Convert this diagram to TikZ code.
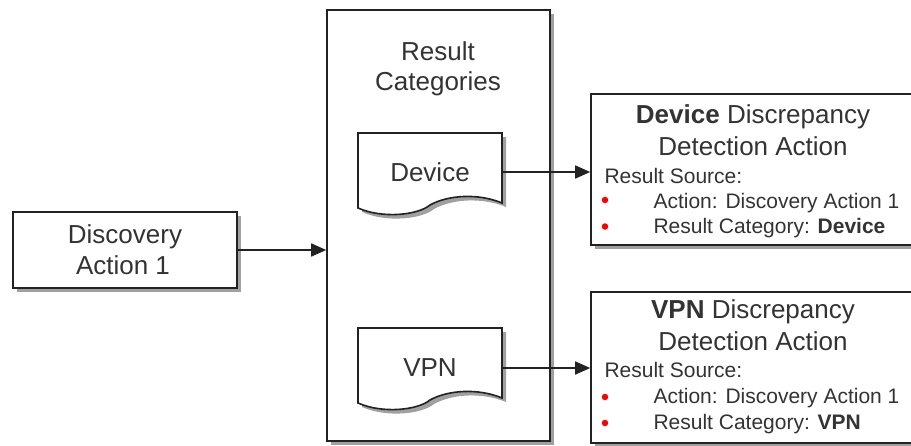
\documentclass[tikz,border=0pt]{standalone}
\usepackage{fontspec}
\setmainfont{Liberation Sans}
\usetikzlibrary{arrows.meta,shadows}
\definecolor{txt}{HTML}{333333}
\definecolor{ln}{HTML}{222222}
\definecolor{shd}{HTML}{A0A0A0}
\begin{document}
\begin{tikzpicture}[x=1pt,y=-1pt,
  box/.style={draw=ln, line width=1.6pt, fill=white, rectangle, inner sep=0pt,
    drop shadow={shadow xshift=4pt, shadow yshift=-4pt, fill=shd, opacity=1}},
  big/.style={font=\fontsize{26}{31}\selectfont, text=txt},
  small/.style={font=\fontsize{21}{25}\selectfont, text=txt},
  arr/.style={draw=ln, line width=1.6pt, -{Triangle[length=15pt,width=13pt]}},
  reddot/.style={circle, fill=red, draw=none, inner sep=0pt, minimum size=6.5pt},
  docshape/.pic={
    \fill[shd] (4,4) -- (148,4) -- (148,74) .. controls (124,64) and (94,66) .. (76,76)
       .. controls (64,86) and (29,90) .. (4,79) -- cycle;
    \draw[ln, line width=1.6pt, fill=white] (0,0) -- (144,0) -- (144,70)
       .. controls (120,60) and (90,62) .. (72,72)
       .. controls (60,82) and (25,86) .. (0,75) -- cycle;
  }]
\useasboundingbox (0,0) rectangle (911,445);
\clip (0,0) rectangle (911,445);

% left box
\node[box, minimum width=224pt, minimum height=76pt] (disc) at (125,250) {};
\node[big, anchor=base] (disc1) at (125,243) {Discovery};
\node[big, anchor=base] (disc2) at (123,274) {Action 1};

% category container
\node[box, minimum width=223pt, minimum height=431pt] (cat) at (438.5,225.5) {};
\node[big, anchor=base] (cat1) at (438,60) {Result};
\node[big, anchor=base] (cat2) at (438,90) {Categories};

% documents
\pic at (358,133) {docshape};
\pic at (358,328) {docshape};
\node[big, inner sep=0pt, minimum width=144pt] (dev) at (430,172) {Device};
\node[big, inner sep=0pt, minimum width=144pt] (vpn) at (430,368) {VPN};

% right boxes
\node[box, minimum width=324pt, minimum height=151pt] (r1) at (753,169.5) {};
\node[big, anchor=base] (r1t1) at (753,123) {\textbf{Device} Discrepancy};
\node[big, anchor=base] (r1t2) at (753,155) {Detection Action};
\node[small, anchor=base west] (r1s) at (601,183) {Result Source:};
\node[reddot] (r1d1) at (605,200) {};
\node[reddot] (r1d2) at (605,226.5) {};
\node[small, anchor=base west] (r1a) at (650,208) {Action: Discovery Action 1};
\node[small, anchor=base west] (r1b) at (650,233) {Result Category: \textbf{Device}};

\node[box, minimum width=324pt, minimum height=151pt] (r2) at (753,367.5) {};
\node[big, anchor=base] (r2t1) at (753,318) {\textbf{VPN} Discrepancy};
\node[big, anchor=base] (r2t2) at (753,350) {Detection Action};
\node[small, anchor=base west] (r2s) at (601,377) {Result Source:};
\node[reddot] (r2d1) at (605,397) {};
\node[reddot] (r2d2) at (605,423) {};
\node[small, anchor=base west] (r2a) at (650,403) {Action: Discovery Action 1};
\node[small, anchor=base west] (r2b) at (650,429) {Result Category: \textbf{VPN}};

% connectors
\draw[arr] (disc.east) -- (disc.east -| cat.west);
\draw[arr] (dev.east) -- (dev.east -| r1.west);
\draw[arr] (vpn.east) -- (vpn.east -| r2.west);
\end{tikzpicture}
\end{document}
